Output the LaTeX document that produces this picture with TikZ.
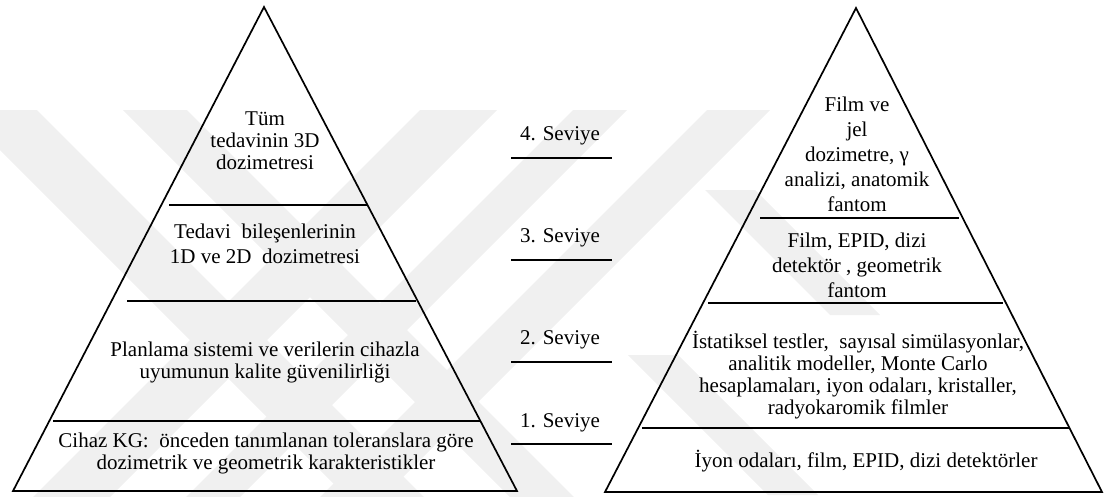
\documentclass[tikz,border=0pt]{standalone}
\usepackage{fontspec}
\setmainfont{Liberation Serif}
\begin{document}
\begin{tikzpicture}[x=1pt,y=-1pt,
  side/.style={line width=1.7pt, line join=miter},
  divider/.style={line width=2.8pt},
  body/.style={align=center, inner sep=0pt},
  tight/.style={font=\fontsize{21}{22}\selectfont},
  loose/.style={font=\fontsize{21}{25}\selectfont},
  lvl/.style={inner sep=0pt, font=\fontsize{21}{23}\selectfont},
  wm/.style={fill=black!6, draw=none}]
\useasboundingbox (0,0) rectangle (1109,496);

% faint background stripes
\begin{scope}
  \clip (0,110) rectangle (1109,496);
  \fill[wm] (-40,110) -- (37,110) -- (437,510) -- (360,510) -- cycle;
  \fill[wm] (123,110) -- (187,110) -- (587,510) -- (523,510) -- cycle;
  \fill[wm] (420,110) -- (497,110) -- (97,510) -- (20,510) -- cycle;
  \fill[wm] (573,110) -- (627,110) -- (227,510) -- (173,510) -- cycle;
  \fill[wm] (707,110) -- (770,110) -- (370,510) -- (307,510) -- cycle;
  \fill[wm] (628,355) -- (678,355) -- (818,495) -- (768,495) -- cycle;
  \fill[wm] (705,190) -- (755,190) -- (880,315) -- (830,315) -- cycle;
\end{scope}

% left pyramid
\coordinate (LA) at (264,7);
\coordinate (LB) at (13,491);
\coordinate (LC) at (517,491);
\draw[side] (LA) -- (LB) -- (LC) -- cycle;
\coordinate (l1a) at (169,205); \coordinate (l1b) at (367,205);
\coordinate (l2a) at (127,301); \coordinate (l2b) at (416,301);
\coordinate (l3a) at (53,421);  \coordinate (l3b) at (481,421);
\draw[divider] (l1a) -- (l1b);
\draw[divider] (l2a) -- (l2b);
\draw[divider] (l3a) -- (l3b);

\node[body,tight] (t4) at (265,141) {Tüm\\tedavinin 3D\\dozimetresi};
\node[body,loose] (t3) at (265,244) {Tedavi\ \ bileşenlerinin\\1D ve 2D\ \ dozimetresi};
\node[body,tight] (t2) at (265,362) {Planlama sistemi ve verilerin cihazla\\uyumunun kalite güvenilirliği};
\node[body,tight] (t1) at (266,453) {Cihaz KG:\ \ önceden tanımlanan toleranslara göre\\dozimetrik ve geometrik karakteristikler};

% level labels
\node[lvl] (v4) at (560,136) {4. Seviye};
\node[lvl] (v3) at (560,238) {3. Seviye};
\node[lvl] (v2) at (560,340) {2. Seviye};
\node[lvl] (v1) at (560,423) {1. Seviye};
\coordinate (m4a) at (511,158); \coordinate (m4b) at (612,158);
\coordinate (m3a) at (511,260); \coordinate (m3b) at (612,260);
\coordinate (m2a) at (511,362); \coordinate (m2b) at (612,362);
\coordinate (m1a) at (511,444); \coordinate (m1b) at (612,444);
\draw[divider] (m4a) -- (m4b);
\draw[divider] (m3a) -- (m3b);
\draw[divider] (m2a) -- (m2b);
\draw[divider] (m1a) -- (m1b);

% right pyramid
\coordinate (RA) at (856,8);
\coordinate (RB) at (605,492);
\coordinate (RC) at (1102,492);
\draw[side] (RA) -- (RB) -- (RC) -- cycle;
\coordinate (r1a) at (760,218); \coordinate (r1b) at (959,218);
\coordinate (r2a) at (708,303); \coordinate (r2b) at (1003,303);
\coordinate (r3a) at (642,428); \coordinate (r3b) at (1070,428);
\draw[divider] (r1a) -- (r1b);
\draw[divider] (r2a) -- (r2b);
\draw[divider] (r3a) -- (r3b);

\node[body,loose] (s4) at (857,154) {Film ve\\jel\\dozimetre, γ\\analizi, anatomik\\fantom};
\node[body,loose] (s3) at (857,265) {Film, EPID, dizi\\detektör , geometrik\\fantom};
\node[body,tight] (s2) at (858,375) {İstatiksel testler,\ \ sayısal simülasyonlar,\\analitik modeller, Monte Carlo\\hesaplamaları, iyon odaları, kristaller,\\radyokaromik filmler};
\node[body,tight] (s1) at (866,461) {İyon odaları, film, EPID, dizi detektörler};
\end{tikzpicture}
\end{document}
